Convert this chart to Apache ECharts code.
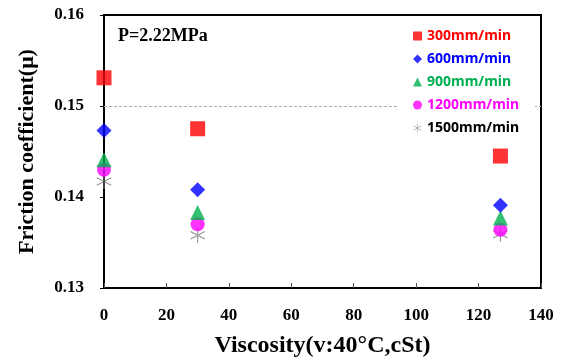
<!DOCTYPE html>
<html>
<head>
<meta charset="utf-8">
<script src="https://cdn.jsdelivr.net/npm/echarts@6/dist/echarts.min.js"></script>
<style>
  html, body { margin: 0; padding: 0; background: #fff; }
  #chart { width: 564px; height: 363px; }
</style>
</head>
<body>
<div id="chart"></div>
<script>
// viscosity (cSt at 40°C) of the three oils
const viscosity = [0, 30, 127]

const speeds = ['300mm/min', '600mm/min', '900mm/min', '1200mm/min', '1500mm/min']
const mu300 = [0.1531, 0.1475, 0.1445]
const mu600 = [0.1473, 0.1408, 0.1391]
const mu900 = [0.1441, 0.1383, 0.1377]
const mu1200 = [0.1430, 0.1370, 0.1364]
const mu1500 = [0.1417, 0.1358, 0.1359]

const yTicks = [0.13, 0.14, 0.15, 0.16]
const xTicks = [0, 20, 40, 60, 80, 100, 120, 140]

const serif = '"Liberation Serif", "Times New Roman", serif'
const sans = '"Noto Sans", "Liberation Sans", sans-serif'

// six-armed asterisk made of thin bars
const starPath = 'path://M-0.7,-10L0.7,-10L0.7,10L-0.7,10Z' +
  'M-8.9,4.3L-8.2,5.6L8.9,-4.3L8.2,-5.6Z' +
  'M-8.9,-4.3L-8.2,-5.6L8.9,4.3L8.2,5.6Z'

const styles = [
  { color: '#ff0000', symbol: 'rect', size: 15, data: mu300 },
  { color: '#0000ff', symbol: 'diamond', size: 15, data: mu600 },
  { color: '#00b050', symbol: 'triangle', size: 15, data: mu900 },
  { color: '#ff00ff', symbol: 'circle', size: 14, data: mu1200 },
  { color: '#808080', symbol: starPath, size: 15, data: mu1500, text: '#000' },
]

const chart = echarts.init(document.getElementById('chart'), null, { renderer: 'canvas' })

const series = speeds.map((name, i) => {
  const s = styles[i]
  return {
    name,
    type: 'scatter',
    symbol: s.symbol,
    symbolSize: s.size,
    itemStyle: { color: s.color },
    data: viscosity.map((v, j) => [v, s.data[j]]),
    z: 10 - i,
  }
})

// dashed guide at 0.15
series.push({
  type: 'line',
  data: [],
  z: 1,
  markLine: {
    silent: true,
    symbol: 'none',
    label: { show: false },
    lineStyle: { color: '#b0b0b0', type: [3, 2], width: 1 },
    data: [{ yAxis: 0.15 }],
  },
})

chart.setOption({
  animation: false,
  backgroundColor: '#fff',
  grid: {
    left: 104, right: 23, top: 15, bottom: 73,
    show: true, borderColor: '#000', borderWidth: 2,
  },
  xAxis: {
    type: 'value',
    min: 0, max: 140, interval: 20,
    name: 'Viscosity(v:40°C,cSt)',
    nameLocation: 'middle',
    nameGap: 46,
    nameTextStyle: { fontFamily: serif, fontWeight: 'bold', fontSize: 24, color: '#000' },
    axisLine: { lineStyle: { color: '#000', width: 2 } },
    axisTick: { inside: true, length: 5, lineStyle: { color: '#555' } },
    axisLabel: {
      fontFamily: serif, fontWeight: 'bold', fontSize: 17, color: '#000', margin: 19,
      formatter: v => xTicks.includes(v) ? String(v) : '',
    },
    splitLine: { show: false },
  },
  yAxis: {
    type: 'value',
    min: 0.13, max: 0.16, interval: 0.01,
    name: 'Friction coefficient(μ)',
    nameLocation: 'middle',
    nameGap: 66,
    nameTextStyle: { fontFamily: serif, fontWeight: 'bold', fontSize: 22, color: '#000' },
    axisLine: { lineStyle: { color: '#000', width: 2 } },
    axisTick: { length: 4, lineStyle: { color: '#000' } },
    axisLabel: {
      fontFamily: serif, fontWeight: 'bold', fontSize: 17, color: '#000', margin: 20,
      formatter: v => {
        const t = yTicks.find(k => Math.abs(k - v) < 1e-9)
        return t != null ? t.toFixed(2) : ''
      },
    },
    splitLine: { show: false },
  },
  legend: {
    orient: 'vertical',
    left: 398, top: 28,
    z: 20,
    backgroundColor: '#fff',
    padding: [1, 16, 1, 15],
    itemGap: 9,
    itemWidth: 9, itemHeight: 9,
    textStyle: { fontFamily: sans, fontWeight: 'bold', fontSize: 14 },
    data: speeds.map((name, i) => ({
      name,
      textStyle: { color: styles[i].text || styles[i].color },
    })),
  },
  graphic: [{
    type: 'text',
    left: 118, top: 27,
    style: { text: 'P=2.22MPa', fontFamily: serif, fontWeight: 'bold', fontSize: 18, fill: '#000' },
  }],
  series,
})
</script>
</body>
</html>
